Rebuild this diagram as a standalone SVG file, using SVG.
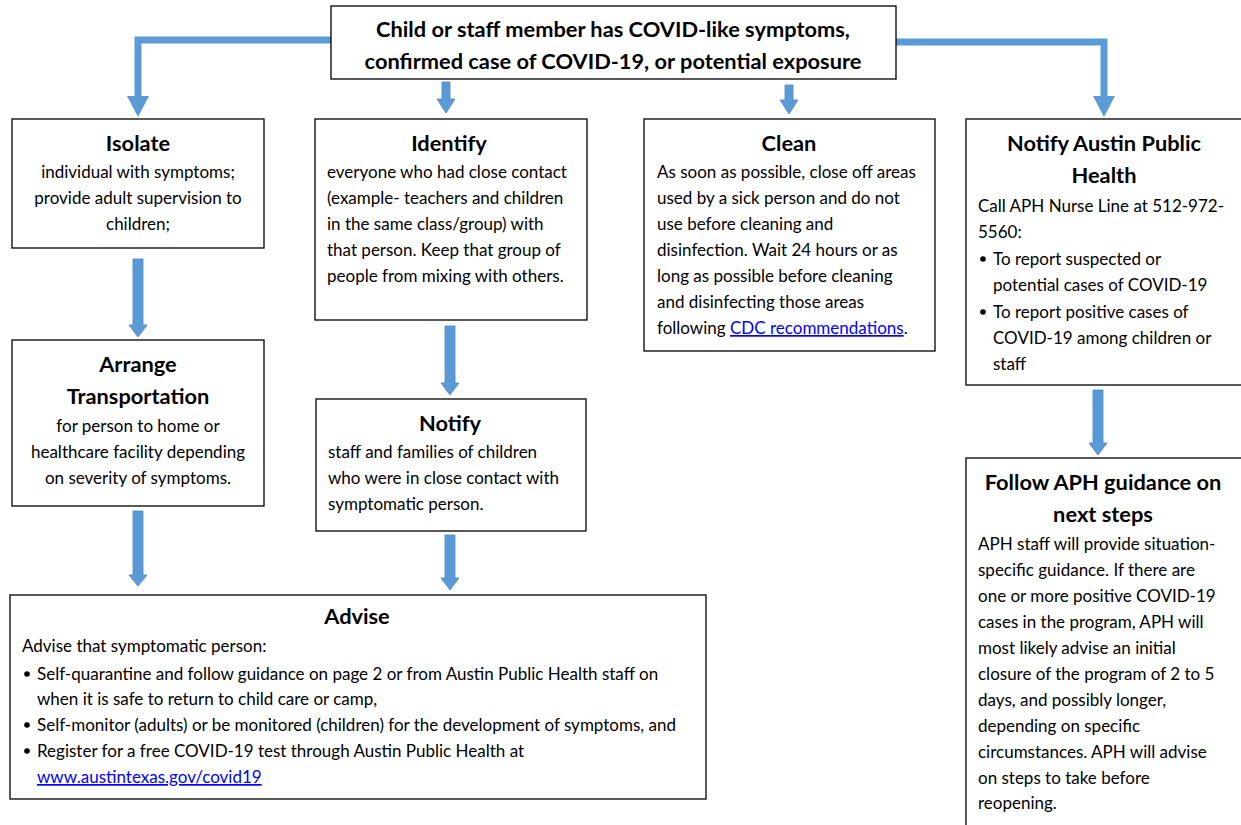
<svg xmlns="http://www.w3.org/2000/svg" width="1241" height="825" viewBox="0 0 1241 825">
<style>
.box{fill:#fff;stroke:#000;stroke-width:1.3}
text{font-family:Lato,"Open Sans","Liberation Sans",sans-serif;fill:#000}
.t{font-size:21.8px;font-weight:bold;text-anchor:middle}
.b{font-size:17px}
.c{text-anchor:middle}
.lnk{fill:#0000ff;text-decoration:underline}
.conn{fill:none;stroke:#5B9BD5;stroke-width:7}
.ah{fill:#5B9BD5}
.blk{fill:#5B9BD5;stroke:#4a86bf;stroke-width:0.8}
</style>
<rect width="1241" height="825" fill="#fff"/>
<g id="connectors">
<polyline class="conn" points="331,40 138,40 138,97"/>
<polygon class="ah" points="127,96 149,96 138,117"/>
<polyline class="conn" points="896,42 1104,42 1104,97"/>
<polygon class="ah" points="1093,96 1115,96 1104,117"/>
<polygon class="blk" points="442,82 450,82 450,99 455,99 446,113 437,99 442,99"/>
<polygon class="blk" points="785,85 793,85 793,100 798,100 789,114 780,100 785,100"/>
<polygon class="blk" points="133,259 143,259 143,325 147,325 138,337 129,325 133,325"/>
<polygon class="blk" points="445,326 455,326 455,383 459,383 450,395 441,383 445,383"/>
<polygon class="blk" points="1093,390 1103,390 1103,443 1107,443 1098,455 1089,443 1093,443"/>
<polygon class="blk" points="133,511 143,511 143,575 147,575 138,586 129,575 133,575"/>
<polygon class="blk" points="445,535 455,535 455,578 459,578 450,590 441,578 445,578"/>
</g>
<g id="start">
<rect class="box" x="331" y="6" width="565" height="73"/>
<text class="t" x="613" y="37">Child or staff member has COVID-like symptoms,</text>
<text class="t" x="613" y="69">confirmed case of COVID-19, or potential exposure</text>
</g>
<g id="isolate">
<rect class="box" x="12" y="119" width="252" height="129"/>
<text class="t" x="138" y="151">Isolate</text>
<text class="b c" x="138" y="178">individual with symptoms;</text>
<text class="b c" x="138" y="204">provide adult supervision to</text>
<text class="b c" x="138" y="230">children;</text>
</g>
<g id="identify">
<rect class="box" x="315" y="119" width="272" height="201"/>
<text class="t" x="449" y="151">Identify</text>
<text class="b" x="327" y="178">everyone who had close contact</text>
<text class="b" x="327" y="204">(example- teachers and children</text>
<text class="b" x="327" y="230">in the same class/group) with</text>
<text class="b" x="327" y="256">that person. Keep that group of</text>
<text class="b" x="327" y="282">people from mixing with others.</text>
</g>
<g id="clean">
<rect class="box" x="644" y="119" width="291" height="232"/>
<text class="t" x="789" y="151">Clean</text>
<text class="b" x="657" y="178">As soon as possible, close off areas</text>
<text class="b" x="657" y="204">used by a sick person and do not</text>
<text class="b" x="657" y="230">use before cleaning and</text>
<text class="b" x="657" y="256">disinfection. Wait 24 hours or as</text>
<text class="b" x="657" y="282">long as possible before cleaning</text>
<text class="b" x="657" y="308">and disinfecting those areas</text>
<text class="b" x="657" y="334">following <tspan class="lnk">CDC recommendations</tspan>.</text>
</g>
<g id="notify-aph">
<rect class="box" x="966" y="119" width="290" height="266"/>
<text class="t" x="1104" y="151">Notify Austin Public</text>
<text class="t" x="1104" y="183">Health</text>
<text class="b" x="978" y="212">Call APH Nurse Line at 512-972-</text>
<text class="b" x="978" y="238">5560:</text>
<circle cx="983" cy="259" r="2.8"/>
<text class="b" x="993" y="265">To report suspected or</text>
<text class="b" x="993" y="291">potential cases of COVID-19</text>
<circle cx="983" cy="312" r="2.8"/>
<text class="b" x="993" y="318">To report positive cases of</text>
<text class="b" x="993" y="344">COVID-19 among children or</text>
<text class="b" x="993" y="370">staff</text>
</g>
<g id="arrange">
<rect class="box" x="12" y="340" width="252" height="166"/>
<text class="t" x="138" y="372">Arrange</text>
<text class="t" x="138" y="404">Transportation</text>
<text class="b c" x="138" y="432">for person to home or</text>
<text class="b c" x="138" y="458">healthcare facility depending</text>
<text class="b c" x="138" y="484">on severity of symptoms.</text>
</g>
<g id="notify">
<rect class="box" x="316" y="399" width="270" height="132"/>
<text class="t" x="450" y="431">Notify</text>
<text class="b" x="328" y="458">staff and families of children</text>
<text class="b" x="328" y="484">who were in close contact with</text>
<text class="b" x="328" y="510">symptomatic person.</text>
</g>
<g id="advise">
<rect class="box" x="10" y="595" width="696" height="204"/>
<text class="t" x="357" y="624">Advise</text>
<text class="b" x="22" y="652">Advise that symptomatic person:</text>
<circle cx="27" cy="674" r="2.8"/>
<text class="b" x="37" y="680">Self-quarantine and follow guidance on page 2 or from Austin Public Health staff on</text>
<text class="b" x="37" y="705">when it is safe to return to child care or camp,</text>
<circle cx="27" cy="725" r="2.8"/>
<text class="b" x="37" y="731">Self-monitor (adults) or be monitored (children) for the development of symptoms, and</text>
<circle cx="27" cy="751" r="2.8"/>
<text class="b" x="37" y="757">Register for a free COVID-19 test through Austin Public Health at</text>
<text class="b lnk" x="37" y="783">www.austintexas.gov/covid19</text>
</g>
<g id="follow-aph">
<rect class="box" x="966" y="458" width="290" height="380"/>
<text class="t" x="1103" y="490">Follow APH guidance on</text>
<text class="t" x="1103" y="522">next steps</text>
<text class="b" x="978" y="550">APH staff will provide situation-</text>
<text class="b" x="978" y="576">specific guidance. If there are</text>
<text class="b" x="978" y="602">one or more positive COVID-19</text>
<text class="b" x="978" y="628">cases in the program, APH will</text>
<text class="b" x="978" y="654">most likely advise an initial</text>
<text class="b" x="978" y="680">closure of the program of 2 to 5</text>
<text class="b" x="978" y="706">days, and possibly longer,</text>
<text class="b" x="978" y="732">depending on specific</text>
<text class="b" x="978" y="758">circumstances. APH will advise</text>
<text class="b" x="978" y="784">on steps to take before</text>
<text class="b" x="978" y="809">reopening.</text>
</g>
</svg>
